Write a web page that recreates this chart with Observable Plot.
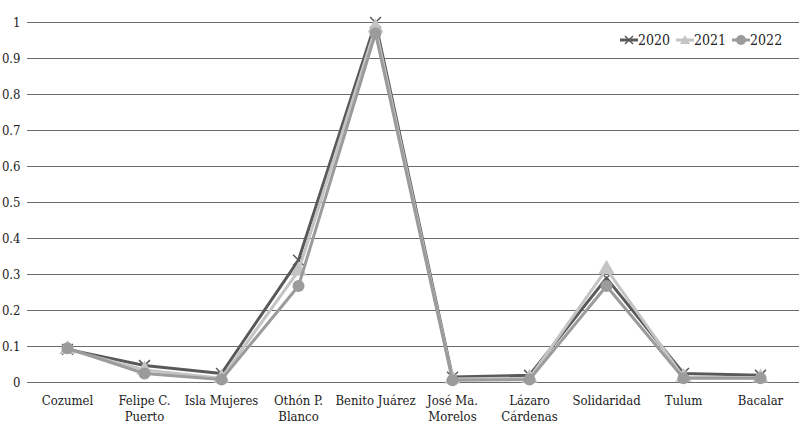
<!DOCTYPE html>
<html>
<head>
<meta charset="utf-8">
<script src="https://cdn.jsdelivr.net/npm/d3@7"></script>
<script src="https://cdn.jsdelivr.net/npm/@observablehq/plot@0.6"></script>
<style>
  html, body { margin: 0; padding: 0; background: #fff; }
  #wrap { position: relative; width: 800px; height: 440px; font-family: "DejaVu Serif Condensed", "DejaVu Serif"; font-stretch: condensed; }
  #wrap svg text { font-family: "DejaVu Serif Condensed", "DejaVu Serif"; font-stretch: condensed; }
  #legend { position: absolute; top: 32px; left: 620px; display: flex; gap: 6px; font-size: 14px; color: #222; align-items: center; }
  #legend .item { display: flex; align-items: center; }
</style>
</head>
<body>
<div id="wrap"><div id="legend"></div></div>
<script>
const categories = ["Cozumel", "Felipe C.\nPuerto", "Isla Mujeres", "Othón P.\nBlanco", "Benito Juárez", "José Ma.\nMorelos", "Lázaro\nCárdenas", "Solidaridad", "Tulum", "Bacalar"];
const years = ["2020", "2021", "2022"];
const values2020 = [0.092, 0.047, 0.025, 0.340, 1.000, 0.015, 0.020, 0.290, 0.025, 0.020];
const values2021 = [0.092, 0.035, 0.012, 0.310, 0.985, 0.010, 0.012, 0.315, 0.015, 0.013];
const values2022 = [0.095, 0.025, 0.008, 0.268, 0.970, 0.006, 0.008, 0.268, 0.012, 0.012];
const yTicks = [0, 0.1, 0.2, 0.3, 0.4, 0.5, 0.6, 0.7, 0.8, 0.9, 1];

const colors = { "2020": "#595959", "2021": "#c4c4c4", "2022": "#9b9b9b" };
const seriesValues = { "2020": values2020, "2021": values2021, "2022": values2022 };

const data = years.flatMap(yr => categories.map((c, i) => ({ cat: c, year: yr, value: seriesValues[yr][i] })));

const seriesMarks = years.flatMap(yr => {
  const d = data.filter(r => r.year === yr);
  const line = Plot.lineY(d, { x: "cat", y: "value", stroke: colors[yr], strokeWidth: 3 });
  let dot;
  if (yr === "2020") dot = Plot.dot(d, { x: "cat", y: "value", symbol: "times", r: 5, stroke: colors[yr], strokeWidth: 1.5, fill: "none" });
  else if (yr === "2021") dot = Plot.dot(d, { x: "cat", y: "value", symbol: "triangle", r: 6, fill: colors[yr], stroke: "none" });
  else dot = Plot.dot(d, { x: "cat", y: "value", symbol: "circle", r: 6, fill: colors[yr], stroke: "none" });
  return [line, dot];
});

const chart = Plot.plot({
  width: 800,
  height: 440,
  marginLeft: 27,
  marginRight: 1,
  marginTop: 22,
  marginBottom: 58,
  style: { fontFamily: "'DejaVu Serif Condensed', 'DejaVu Serif'", fontSize: "13px", color: "#222", background: "#fff" },
  x: { type: "point", domain: categories, padding: 0.5, label: null },
  y: { domain: [0, 1], label: null },
  marks: [
    Plot.ruleY(yTicks, { stroke: "#6a6a6a", strokeWidth: 1 }),
    Plot.axisY({ ticks: yTicks, tickSize: 0, tickPadding: 7, tickFormat: d => String(+d.toFixed(1)), label: null }),
    Plot.axisX({ tickSize: 0, tickPadding: 11, label: null, lineHeight: 1.25 }),
    ...seriesMarks
  ]
});
document.getElementById("wrap").prepend(chart);

// Legend
const legend = document.getElementById("legend");
years.forEach(yr => {
  const item = document.createElement("div");
  item.className = "item";
  let marker;
  if (yr === "2020") marker = `<path d="M5,3 L13,11 M13,3 L5,11" stroke="${colors[yr]}" stroke-width="1.5"/>`;
  else if (yr === "2021") marker = `<path d="M9,2 L14,11 L4,11 Z" fill="${colors[yr]}"/>`;
  else marker = `<circle cx="9" cy="7" r="5" fill="${colors[yr]}"/>`;
  item.innerHTML = `<svg width="18" height="14"><line x1="0" y1="7" x2="18" y2="7" stroke="${colors[yr]}" stroke-width="3"/>${marker}</svg><span>${yr}</span>`;
  legend.appendChild(item);
});
</script>
</body>
</html>
